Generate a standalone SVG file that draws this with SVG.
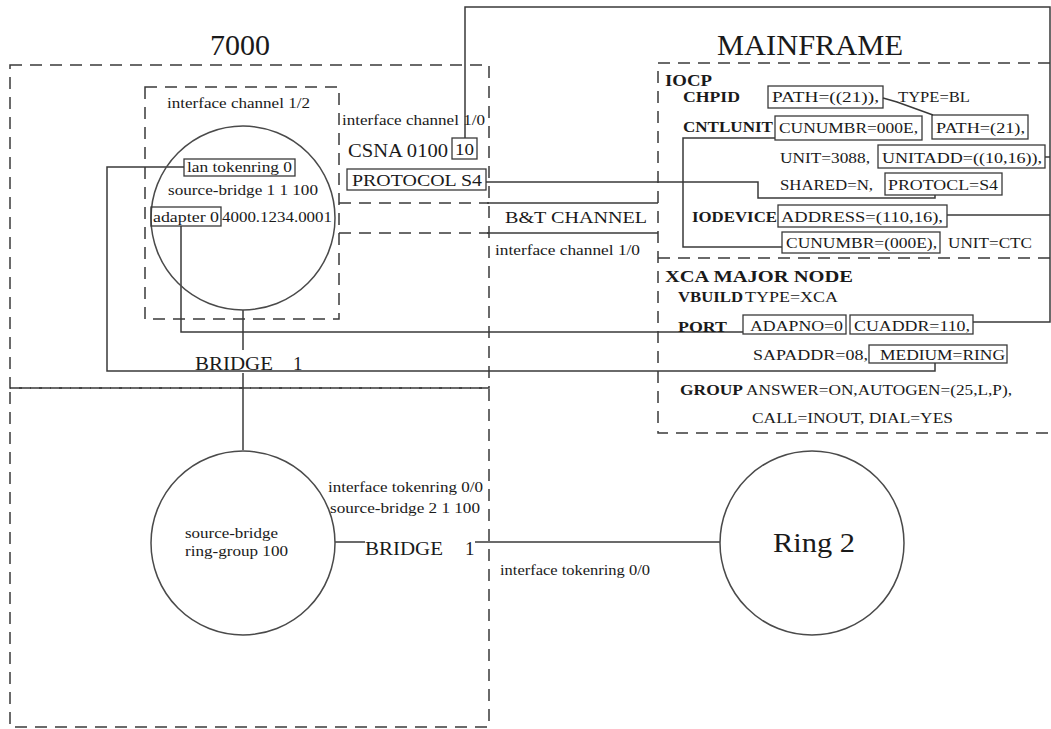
<svg xmlns="http://www.w3.org/2000/svg" width="1051" height="729" viewBox="0 0 1051 729">
<style>
text { font-family: "Liberation Serif", "DejaVu Serif", serif; fill: #1a1a1a; }
.s { font-size: 14px; }
.m { font-size: 15px; }
.l { font-size: 17px; }
.b { font-weight: bold; }
.dash { fill: none; stroke: #3a3a3a; stroke-width: 1.5; stroke-dasharray: 12 8; }
.ln { fill: none; stroke: #3a3a3a; stroke-width: 1.5; }
.box { fill: none; stroke: #3a3a3a; stroke-width: 1.3; }
.ring { fill: none; stroke: #4a4a4a; stroke-width: 1.5; }
</style>
<rect width="1051" height="729" fill="#fff"/>

<g id="frames">
  <rect class="dash" x="10" y="65" width="479" height="323"/>
  <rect class="dash" x="10" y="388" width="479" height="339"/>
  <rect class="dash" x="658" y="63" width="420" height="370"/>
  <line class="dash" x1="658" y1="258" x2="1051" y2="258"/>
  <text x="240" y="55" text-anchor="middle" style="font-size:30px">7000</text>
  <text x="717" y="55" style="font-size:30px" textLength="186" lengthAdjust="spacingAndGlyphs">MAINFRAME</text>
</g>

<g id="channel-1-2">
  <rect class="dash" x="145" y="87" width="194" height="232"/>
  <text class="s" x="167" y="108" textLength="143" lengthAdjust="spacingAndGlyphs">interface channel 1/2</text>
</g>

<g id="connectors">
  <path class="ln" d="M465,138 V7 H1050 V322 H973"/>
  <path class="ln" d="M1045,157 H1050"/>
  <path class="ln" d="M947,215 H1050"/>
  <path class="ln" d="M486,182 H758 V198 H935 V195"/>
  <path class="ln" d="M775,138 H683 V247 H782"/>
  <path class="ln" d="M184,167 H107 V371 H935 V363"/>
  <path class="ln" d="M181,226 V332 H743"/>
  <path class="ln" d="M243,310 V350"/>
  <path class="ln" d="M243,373 V450"/>
  <path class="ln" d="M335,542 H365"/>
  <path class="ln" d="M475,542 H720"/>
  <path class="ln" d="M883,98 L897,102 L933,115"/>
</g>

<g id="router-ring">
  <circle class="ring" cx="243" cy="218" r="92"/>
  <rect class="box" x="184" y="159" width="111" height="17"/>
  <text class="s" x="187" y="172" textLength="105" lengthAdjust="spacingAndGlyphs">lan tokenring 0</text>
  <text class="s" x="168" y="195" textLength="150" lengthAdjust="spacingAndGlyphs">source-bridge 1 1 100</text>
  <rect class="box" x="151" y="207" width="70" height="19"/>
  <text class="s" x="153" y="222" textLength="66" lengthAdjust="spacingAndGlyphs">adapter 0</text>
  <text class="s" x="222" y="222" textLength="110" lengthAdjust="spacingAndGlyphs">4000.1234.0001</text>
</g>

<g id="channel-1-0">
  <text class="s" x="342" y="125" textLength="143" lengthAdjust="spacingAndGlyphs">interface channel 1/0</text>
  <text x="348" y="157" style="font-size:18px" textLength="100" lengthAdjust="spacingAndGlyphs">CSNA 0100</text>
  <rect class="box" x="452" y="138" width="25" height="21"/>
  <text class="l" x="455" y="155" textLength="19" lengthAdjust="spacingAndGlyphs">10</text>
  <rect class="box" x="347" y="169" width="139" height="21"/>
  <text class="l" x="352" y="186" textLength="130" lengthAdjust="spacingAndGlyphs">PROTOCOL S4</text>
</g>

<g id="bt-channel">
  <line class="dash" x1="339" y1="203" x2="489" y2="203"/>
  <line class="dash" x1="339" y1="233" x2="489" y2="233"/>
  <line class="ln" x1="487" y1="203" x2="658" y2="203"/>
  <line class="ln" x1="487" y1="233" x2="658" y2="233"/>
  <text class="l" x="505" y="223" textLength="142" lengthAdjust="spacingAndGlyphs">B&amp;T CHANNEL</text>
  <text class="s" x="495" y="255" textLength="145" lengthAdjust="spacingAndGlyphs">interface channel 1/0</text>
</g>

<g id="bridge-top">
  <text x="195" y="370" style="font-size:19px" textLength="78" lengthAdjust="spacingAndGlyphs">BRIDGE</text>
  <text x="293" y="370" style="font-size:19px">1</text>
</g>

<g id="ring-group">
  <circle class="ring" cx="243" cy="543" r="92"/>
  <text class="s" x="185" y="538" textLength="93" lengthAdjust="spacingAndGlyphs">source-bridge</text>
  <text class="s" x="185" y="556" textLength="103" lengthAdjust="spacingAndGlyphs">ring-group 100</text>
  <text class="s" x="328" y="492" textLength="155" lengthAdjust="spacingAndGlyphs">interface tokenring 0/0</text>
  <text class="s" x="330" y="513" textLength="150" lengthAdjust="spacingAndGlyphs">source-bridge 2 1 100</text>
</g>

<g id="bridge-bottom">
  <text x="365" y="555" style="font-size:19px" textLength="78" lengthAdjust="spacingAndGlyphs">BRIDGE</text>
  <text x="465" y="555" style="font-size:19px">1</text>
  <text class="s" x="500" y="575" textLength="150" lengthAdjust="spacingAndGlyphs">interface tokenring 0/0</text>
</g>

<g id="ring2">
  <circle class="ring" cx="812" cy="543" r="92"/>
  <text x="773" y="552" style="font-size:27px" textLength="82" lengthAdjust="spacingAndGlyphs">Ring 2</text>
</g>

<g id="iocp">
  <text class="l b" x="665" y="86" textLength="47" lengthAdjust="spacingAndGlyphs">IOCP</text>
  <text class="m b" x="683" y="102" textLength="57" lengthAdjust="spacingAndGlyphs">CHPID</text>
  <rect class="box" x="768" y="86" width="115" height="22"/>
  <text class="m" x="772" y="102" textLength="107" lengthAdjust="spacingAndGlyphs">PATH=((21)),</text>
  <text class="m" x="898" y="102" textLength="72" lengthAdjust="spacingAndGlyphs">TYPE=BL</text>
  <text class="m b" x="683" y="132" textLength="90" lengthAdjust="spacingAndGlyphs">CNTLUNIT</text>
  <rect class="box" x="775" y="116" width="147" height="24"/>
  <text class="m" x="779" y="133" textLength="139" lengthAdjust="spacingAndGlyphs">CUNUMBR=000E,</text>
  <rect class="box" x="932" y="115" width="96" height="24"/>
  <text class="m" x="936" y="133" textLength="89" lengthAdjust="spacingAndGlyphs">PATH=(21),</text>
  <text class="m" x="780" y="163" textLength="90" lengthAdjust="spacingAndGlyphs">UNIT=3088,</text>
  <rect class="box" x="878" y="145" width="167" height="23"/>
  <text class="m" x="882" y="163" textLength="160" lengthAdjust="spacingAndGlyphs">UNITADD=((10,16)),</text>
  <text class="m" x="780" y="190" textLength="93" lengthAdjust="spacingAndGlyphs">SHARED=N,</text>
  <rect class="box" x="885" y="173" width="117" height="22"/>
  <text class="m" x="888" y="190" textLength="110" lengthAdjust="spacingAndGlyphs">PROTOCL=S4</text>
  <text class="m b" x="692" y="222" textLength="85" lengthAdjust="spacingAndGlyphs">IODEVICE</text>
  <rect class="box" x="778" y="205" width="169" height="22"/>
  <text class="m" x="781" y="222" textLength="162" lengthAdjust="spacingAndGlyphs">ADDRESS=(110,16),</text>
  <rect class="box" x="782" y="232" width="158" height="21"/>
  <text class="m" x="786" y="248" textLength="151" lengthAdjust="spacingAndGlyphs">CUNUMBR=(000E),</text>
  <text class="m" x="948" y="248" textLength="84" lengthAdjust="spacingAndGlyphs">UNIT=CTC</text>
</g>

<g id="xca">
  <text class="l b" x="665" y="282" textLength="188" lengthAdjust="spacingAndGlyphs">XCA MAJOR NODE</text>
  <text class="m b" x="678" y="302" textLength="65" lengthAdjust="spacingAndGlyphs">VBUILD</text>
  <text class="m" x="745" y="302" textLength="93" lengthAdjust="spacingAndGlyphs">TYPE=XCA</text>
  <text class="m b" x="678" y="332" textLength="49" lengthAdjust="spacingAndGlyphs">PORT</text>
  <rect class="box" x="743" y="315" width="103" height="19"/>
  <text class="m" x="750" y="331" textLength="93" lengthAdjust="spacingAndGlyphs">ADAPNO=0</text>
  <rect class="box" x="850" y="315" width="123" height="19"/>
  <text class="m" x="854" y="331" textLength="116" lengthAdjust="spacingAndGlyphs">CUADDR=110,</text>
  <text class="m" x="753" y="360" textLength="115" lengthAdjust="spacingAndGlyphs">SAPADDR=08,</text>
  <rect class="box" x="869" y="345" width="138" height="18"/>
  <text class="m" x="880" y="360" textLength="125" lengthAdjust="spacingAndGlyphs">MEDIUM=RING</text>
  <text class="m b" x="680" y="395" textLength="63" lengthAdjust="spacingAndGlyphs">GROUP</text>
  <text class="m" x="746" y="395" textLength="266" lengthAdjust="spacingAndGlyphs">ANSWER=ON,AUTOGEN=(25,L,P),</text>
  <text class="m" x="752" y="423" textLength="201" lengthAdjust="spacingAndGlyphs">CALL=INOUT, DIAL=YES</text>
</g>
</svg>
